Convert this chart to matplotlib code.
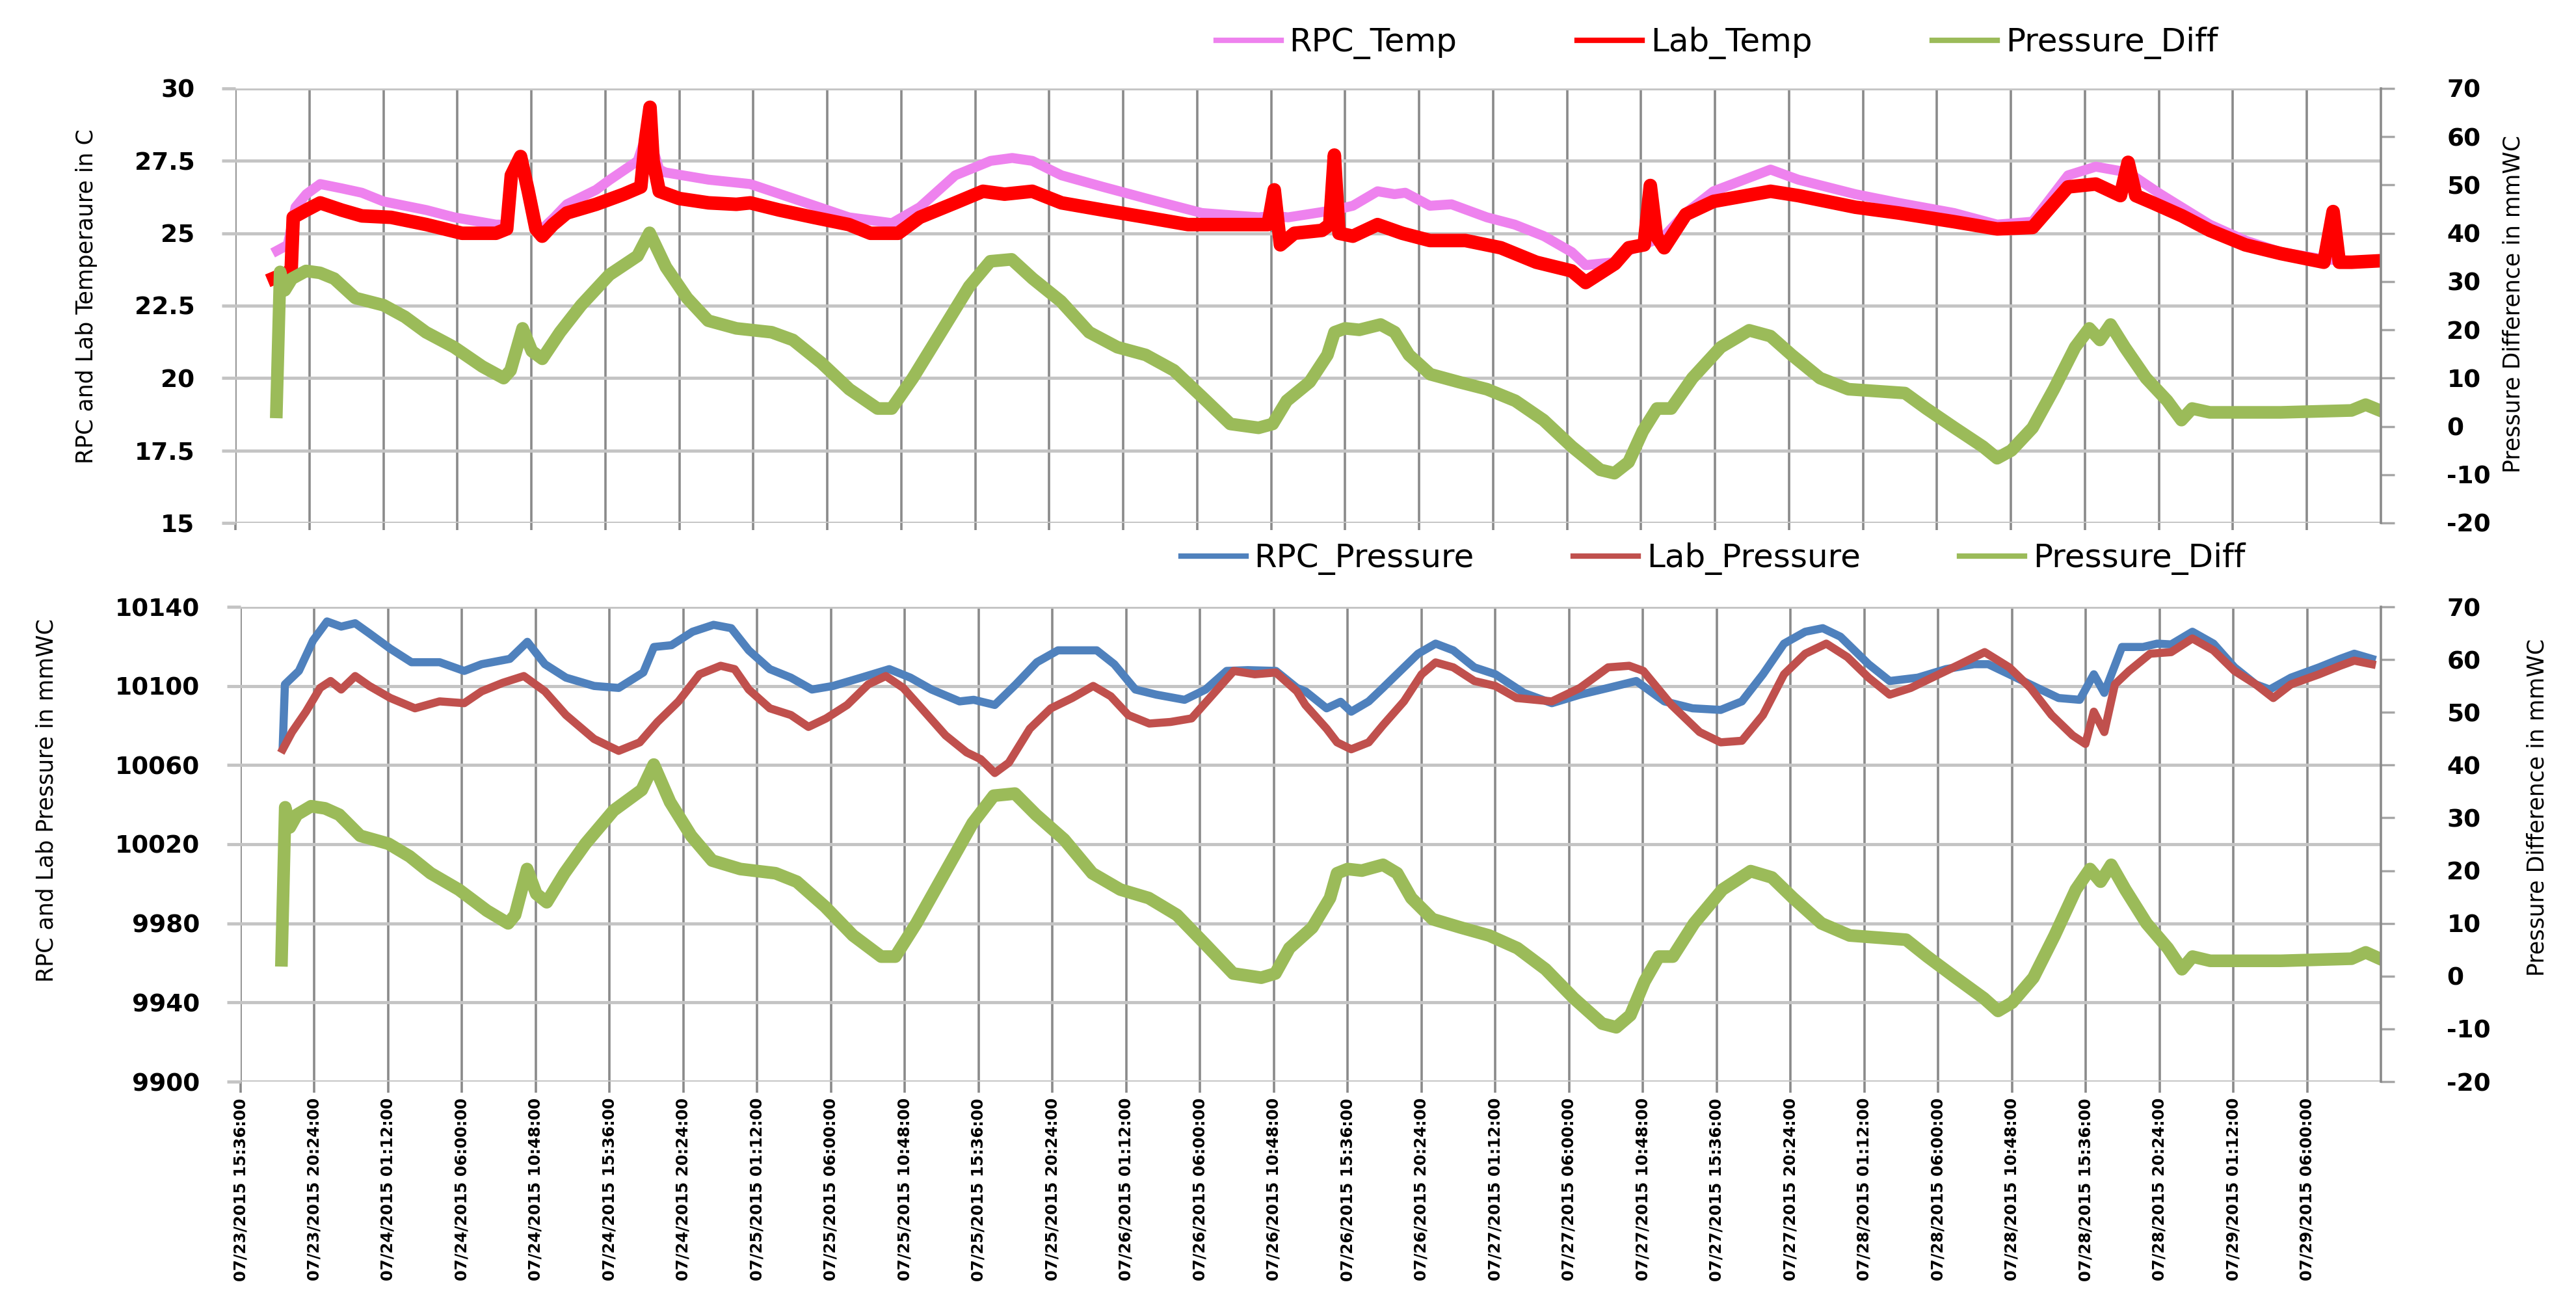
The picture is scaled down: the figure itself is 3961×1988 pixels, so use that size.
import numpy as np
import matplotlib
matplotlib.use("Agg")
import matplotlib.pyplot as plt

plt.rcParams['axes.unicode_minus'] = False

# hours after 07/23/2015 15:36:00 (one tick every 4.8 h)
rpc_temp_h = [2.7, 3.4, 3.9, 4.6, 5.5, 6.9, 8.2, 9.6, 12.4, 14.2, 16.9, 17.6, 17.9, 18.5, 19.0,
              19.5, 19.9, 20.6, 21.5, 23.4, 24.3, 26.1, 26.6, 26.9, 27.1, 27.5, 27.9, 30.7, 33.4, 36.2,
              39.8, 42.6, 44.4, 46.7, 49.0, 50.4, 51.7, 53.6, 56.3, 59.1, 62.7, 66.4, 67.3, 68.3, 71.3,
              72.5, 74.1, 75.2, 75.9, 77.5, 78.9, 81.2, 83.0, 84.9, 86.7, 87.6, 89.5, 90.4, 92.7, 94.1,
              95.9, 99.6, 101.4, 105.1, 107.9, 111.5, 114.3, 116.6, 118.9, 120.7, 122.8, 124.9, 128.1,
              130.4, 132.7, 135.5, 137.3, 139.1]
rpc_temp = [24.4, 24.6, 25.9, 26.35, 26.7, 26.55, 26.4, 26.1, 25.8, 25.55, 25.3, 25.3, 26.9, 27.6, 26.2,
            25.3, 25.15, 25.5, 26.0, 26.5, 26.85, 27.5, 28.3, 29.3, 27.9, 27.2, 27.1, 26.85, 26.7, 26.2,
            25.55, 25.35, 25.9, 27.0, 27.5, 27.6, 27.5, 27.0, 26.6, 26.2, 25.7, 25.55, 25.6, 25.55, 25.8,
            25.95, 26.45, 26.35, 26.4, 25.95, 26.0, 25.55, 25.3, 24.9, 24.35, 23.9, 24.0, 24.4, 24.9, 25.7,
            26.45, 27.2, 26.85, 26.35, 26.05, 25.7, 25.3, 25.4, 27.0, 27.3, 27.1, 26.35, 25.3,
            24.75, 24.35, 24.1, 24.05, 24.05]

lab_temp_h = [2.5, 3.4, 3.6, 3.75, 4.6, 5.5, 6.9, 8.2, 10.1, 12.4, 14.7, 16.9, 17.6, 17.9, 18.5,
              19.0, 19.5, 19.9, 20.6, 21.5, 23.4, 25.2, 26.3, 26.6, 26.9, 27.1, 27.5, 28.8, 30.7, 32.5,
              33.4, 35.3, 37.5, 39.8, 41.2, 43.0, 44.4, 46.7, 48.5, 49.9, 51.7, 53.6, 56.3, 59.1, 61.8,
              64.6, 67.0, 67.4, 67.8, 68.7, 70.5, 71.0, 71.3, 71.6, 72.5, 74.1, 75.7, 77.5, 79.8, 82.1,
              84.4, 86.7, 87.6, 89.5, 90.4, 91.4, 91.8, 92.2, 92.7, 94.1, 95.9, 99.6, 101.4, 105.1, 107.9,
              111.5, 114.3, 116.6, 118.9, 120.7, 122.3, 122.8, 123.3, 124.4, 126.3, 128.1, 130.4, 132.7,
              135.5, 136.1, 136.5, 137.3, 139.1]
lab_temp = [23.45, 23.65, 23.5, 25.55, 25.8, 26.05, 25.8, 25.6, 25.55, 25.3, 25.0, 25.0, 25.15, 27.0, 27.65,
            26.45, 25.15, 24.9, 25.3, 25.7, 26.0, 26.35, 26.6, 28.2, 29.35, 27.5, 26.45, 26.2, 26.05, 26.0,
            26.05, 25.8, 25.55, 25.3, 25.0, 25.0, 25.55, 26.05, 26.45, 26.35, 26.45, 26.05, 25.8, 25.55, 25.3,
            25.3, 25.3, 26.5, 24.6, 25.0, 25.1, 25.3, 27.7, 25.0, 24.9, 25.3, 25.0, 24.75, 24.75, 24.5,
            24.0, 23.7, 23.3, 23.95, 24.5, 24.6, 26.65, 24.9, 24.5, 25.65, 26.1, 26.45, 26.3, 25.9, 25.7,
            25.4, 25.15, 25.2, 26.6, 26.7, 26.3, 27.45, 26.3, 26.05, 25.6, 25.1, 24.6, 24.3,
            24.0, 25.75, 24.0, 24.0, 24.05]

pdiff_h = [2.66, 2.9, 3.2, 3.66, 4.58, 5.49, 6.41, 7.78, 9.61, 10.99,
           12.36, 14.19, 16.02, 17.4, 17.85, 18.63, 19.23, 19.91, 21.06, 22.43,
           24.26, 26.09, 26.87, 27.93, 29.3, 30.67, 32.5, 34.79, 36.17, 38.0,
           39.83, 41.66, 42.58, 43.95, 45.78, 47.61, 48.98, 50.36, 51.73, 53.56,
           55.39, 57.22, 59.06, 60.89, 62.72, 64.55, 66.38, 67.3, 68.21, 69.7,
           70.85, 71.31, 72.0, 72.92, 74.3, 75.22, 76.14, 77.52, 79.36, 81.2,
           83.04, 84.87, 86.71, 88.55, 89.47, 90.39, 91.31, 92.23, 93.15, 94.53,
           96.37, 98.21, 99.59, 100.97, 102.81, 104.65, 106.49, 108.32, 109.7, 111.54,
           113.38, 114.3, 115.22, 116.6, 117.98, 119.36, 120.28, 120.97, 121.66, 122.58,
           123.96, 125.34, 126.26, 126.95, 128.1, 132.69, 137.29, 138.21, 139.13]
pdiff = [3.0, 32.0, 28.2, 30.6, 32.2, 31.8, 30.6, 26.6, 25.1, 22.7,
         19.5, 16.4, 12.4, 10.0, 11.6, 20.3, 15.6, 14.0, 19.5, 25.1,
         31.4, 35.3, 40.1, 33.0, 26.6, 21.9, 20.3, 19.5, 17.9, 13.2,
         7.7, 3.7, 3.7, 10.0, 19.5, 29.0, 34.2, 34.6, 30.6, 25.9,
         19.5, 16.4, 14.8, 11.6, 6.1, 0.5, -0.3, 0.5, 5.3, 9.2,
         14.8, 19.5, 20.3, 20.0, 21.1, 19.5, 14.8, 10.8, 9.2, 7.7,
         5.3, 1.3, -4.2, -9.0, -9.7, -7.4, -1.0, 3.7, 3.7, 10.0,
         16.4, 19.9, 18.7, 14.8, 10.0, 7.7, 7.3, 6.9, 3.7, -0.3,
         -4.2, -6.6, -5.0, -0.3, 7.7, 16.4, 20.3, 17.9, 21.1, 16.4,
         10.0, 5.3, 1.3, 3.7, 2.9, 2.9, 3.3, 4.5, 3.3]

rpc_p_h = [2.74, 2.88, 3.79, 4.71, 5.62, 6.54, 7.45, 8.37, 9.74, 11.11,
           12.94, 14.54, 15.68, 17.51, 18.65, 19.79, 21.16, 22.99, 24.59, 26.19,
           26.88, 28.02, 29.39, 30.76, 31.91, 33.05, 34.42, 35.79, 37.16, 38.53,
           40.36, 42.19, 43.56, 44.93, 46.76, 47.68, 49.05, 50.42, 51.79, 53.16,
           54.53, 55.68, 56.82, 58.19, 59.56, 61.39, 62.76, 64.13, 65.5, 67.33, 68.7,
           69.25, 70.63, 71.54, 72.23, 73.37, 74.29, 75.2, 76.58, 77.72, 78.87,
           80.24, 81.61, 83.45, 85.28, 87.11, 88.94, 90.77, 92.6, 94.43, 96.26,
           97.64, 99.01, 100.38, 101.76, 102.9, 104.05, 105.88, 107.25, 109.08, 110.91,
           112.74, 113.66, 115.03, 116.86, 118.24, 119.61, 120.53, 121.21, 122.36, 123.73,
           124.65, 125.56, 126.94, 128.31, 129.68, 131.06, 131.97, 133.35, 135.18, 136.55,
           137.47, 138.61]
rpc_p = [10069.8, 10100.8, 10107.6, 10123, 10132.6, 10130, 10131.7, 10126.6, 10118.8, 10112,
         10112, 10107.6, 10111, 10113.7, 10122.3, 10111, 10104.2, 10100, 10099, 10106.8,
         10119.7, 10120.6, 10127.4, 10130.9, 10129.2, 10118, 10108.5, 10104.2, 10098.2, 10100,
         10104.2, 10108.5, 10104.2, 10098.2, 10092.2, 10093, 10090.4, 10100.8, 10112, 10118,
         10118, 10118, 10111, 10098.2, 10095.6, 10093, 10098.2, 10107.6, 10108, 10107.6, 10099,
         10097.3, 10088.7, 10092, 10087, 10092.2, 10099, 10105.9, 10116.3, 10121.4, 10118,
         10109.4, 10105.9, 10096.5, 10091.3, 10095.6, 10099, 10102.5, 10092.2, 10088.7, 10087.9,
         10092.2, 10105.9, 10121.4, 10127.4, 10129.2, 10124.9, 10111, 10102.5, 10104.2, 10108.5,
         10111, 10111, 10105.9, 10099, 10093.9, 10093, 10105.9, 10096.5, 10119.7, 10119.7,
         10121.4, 10121, 10127.4, 10121.4, 10109.4, 10100.8, 10098.2, 10104.2, 10109.4, 10113.7,
         10116.3, 10113.7]

lab_p_h = [2.74, 3.34, 4.25, 5.17, 5.85, 6.54, 7.45, 8.37, 9.74, 11.34,
           12.94, 14.54, 15.68, 17.05, 18.42, 19.79, 21.16, 22.99, 24.59, 25.96,
           27.11, 28.48, 29.85, 31.22, 32.13, 33.05, 34.42, 35.79, 36.93, 38.08,
           39.45, 40.82, 41.96, 43.1, 44.48, 45.85, 47.22, 48.13, 49.05, 49.96,
           51.33, 52.7, 54.08, 55.45, 56.59, 57.73, 59.1, 60.48, 61.85, 63.22,
           64.59, 65.96, 67.33, 68.7,
           69.25, 70.63, 71.31, 72.23, 73.37, 74.29, 75.66, 76.81, 77.72, 78.87,
           80.24, 81.61, 82.99, 85.28, 87.11, 88.94, 90.31, 91.23, 93.06, 94.89,
           96.26, 97.64, 99.01, 100.38, 101.76, 103.13, 104.5, 105.88, 107.25, 108.62,
           110.46, 111.83, 113.43, 115.03, 116.41, 117.78, 119.15, 119.98, 120.53, 121.21,
           121.9, 122.82, 124.19, 125.56, 126.94, 128.31, 129.68, 131.06, 132.2, 133.35,
           135.18, 136.55, 137.47, 138.61]
lab_p = [10068, 10076.7, 10087, 10099, 10102.5, 10098.2, 10105, 10100, 10093.9, 10088.7,
         10092.2, 10091.3, 10097.3, 10101.6, 10105, 10097.3, 10085.3, 10073.2, 10067.2, 10071.5,
         10081.8, 10092.2, 10105.9, 10110.2, 10108.5, 10098.2, 10088.7, 10085.3, 10079.3, 10083.6,
         10090.4, 10100.8, 10105, 10099, 10087, 10075, 10066.4, 10063, 10056, 10061.2,
         10078.4, 10088.7, 10093.9, 10100, 10094.8, 10085.3, 10081, 10081.8, 10083.6, 10095.6,
         10107.6, 10105.9, 10106.8, 10097.3,
         10090.4, 10078.4, 10071.5, 10068, 10071.5, 10080.1, 10092.2, 10105.9, 10111.9, 10109.4,
         10102.5, 10100, 10093.9, 10092.2, 10099, 10109.4, 10110.2, 10107.6, 10090.4, 10076.7,
         10071.5, 10072.3, 10085.3, 10105.9, 10116.3, 10121.4, 10114.6, 10104.2, 10095.6, 10099,
         10105.9, 10111, 10117.1, 10109.4, 10099, 10085.3, 10075, 10070.7, 10087, 10076.7,
         10100.8, 10107.6, 10116.3, 10117.1, 10124, 10118, 10107.6, 10100.8, 10093.9, 10100.8,
         10105.9, 10110.2, 10112.8, 10111]

xtick_labels = ["07/23/2015 15:36:00", "07/23/2015 20:24:00", "07/24/2015 01:12:00",
                "07/24/2015 06:00:00", "07/24/2015 10:48:00", "07/24/2015 15:36:00",
                "07/24/2015 20:24:00", "07/25/2015 01:12:00", "07/25/2015 06:00:00",
                "07/25/2015 10:48:00", "07/25/2015 15:36:00", "07/25/2015 20:24:00",
                "07/26/2015 01:12:00", "07/26/2015 06:00:00", "07/26/2015 10:48:00",
                "07/26/2015 15:36:00", "07/26/2015 20:24:00", "07/27/2015 01:12:00",
                "07/27/2015 06:00:00", "07/27/2015 10:48:00", "07/27/2015 15:36:00",
                "07/27/2015 20:24:00", "07/28/2015 01:12:00", "07/28/2015 06:00:00",
                "07/28/2015 10:48:00", "07/28/2015 15:36:00", "07/28/2015 20:24:00",
                "07/29/2015 01:12:00", "07/29/2015 06:00:00"]
tick_hours = np.arange(len(xtick_labels)) * 4.8

temp_ticks = [15, 17.5, 20, 22.5, 25, 27.5, 30]
temp_labels = ["15", "17.5", "20", "22.5", "25", "27.5", "30"]
press_ticks = [9900, 9940, 9980, 10020, 10060, 10100, 10140]
diff_ticks = list(range(-20, 80, 10))

HGRID = '#c4c4c4'
VGRID = '#8a8a8a'
W, H = 3961.0, 1988.0


def style(ax, axr, yticks, ylabels, ylim, rylim):
    ax.set_xlim(0, 29 * 4.8)
    ax.set_ylim(*ylim)
    axr.set_ylim(*rylim)
    ax.set_xticks(tick_hours)
    ax.set_yticks(yticks, labels=ylabels, fontsize=27, fontweight='bold')
    axr.set_yticks(diff_ticks, labels=[str(v) for v in diff_ticks],
                   fontsize=27, fontweight='bold')
    ax.grid(axis='x', color=VGRID, lw=2.6)
    ax.grid(axis='y', color=HGRID, lw=3.5)
    ax.set_axisbelow(True)
    for s in ax.spines.values():
        s.set_visible(False)
    for k, s in axr.spines.items():
        s.set_visible(k == 'right')
    axr.spines['right'].set_color(VGRID)
    axr.spines['right'].set_linewidth(2.6)
    ax.tick_params(axis='y', length=15, width=3.5, color=HGRID, pad=30)
    axr.tick_params(axis='y', length=15, width=2.5, color='#a6a6a6', pad=58)


fig = plt.figure(figsize=(W / 100, H / 100), dpi=100)

# top chart: temperatures
ax1 = fig.add_axes([362 / W, 1 - 804 / H, (3661 - 362) / W, (804 - 136) / H])
ax1r = ax1.twinx()
style(ax1, ax1r, temp_ticks, temp_labels, (15, 30), (-20, 70))
ax1.tick_params(axis='x', length=8, width=2.6, color=VGRID, labelbottom=False)

l1, = ax1.plot(rpc_temp_h, rpc_temp, color='#EE82EE', lw=11, solid_joinstyle='round')
l2, = ax1.plot(lab_temp_h, lab_temp, color='#FF0000', lw=15, solid_joinstyle='round')
l3, = ax1r.plot(pdiff_h, pdiff, color='#9BBB59', lw=14, solid_joinstyle='round')

ax1.set_ylabel('RPC and Lab Temperaure in C', fontsize=25)
ax1.yaxis.set_label_coords(-0.0643, 0.522)
ax1r.set_ylabel('Pressure Difference in mmWC', fontsize=25)
ax1r.yaxis.set_label_coords(1.0564, 0.504)

leg1 = fig.legend([l1, l2, l3], ['RPC_Temp', 'Lab_Temp', 'Pressure_Diff'], loc='center',
                  bbox_to_anchor=(0.6665, 1 - 66 / H), ncol=3, frameon=False, fontsize=36,
                  handlelength=2.0, handletextpad=0.25, columnspacing=3.7)

# bottom chart: pressures
ax2 = fig.add_axes([370 / W, 1 - 1663 / H, (3661 - 370) / W, (1663 - 933) / H])
ax2r = ax2.twinx()
style(ax2, ax2r, press_ticks, [str(v) for v in press_ticks], (9900, 10140), (-20, 70))
ax2.set_xticklabels(xtick_labels, rotation=90, fontsize=17.5, fontweight='bold')
ax2.tick_params(axis='x', length=12, width=2.6, color=VGRID, pad=6)

m1, = ax2.plot(rpc_p_h, rpc_p, color='#4F81BD', lw=9, solid_joinstyle='round')
m2, = ax2.plot(lab_p_h, lab_p, color='#C0504D', lw=9, solid_joinstyle='round')
m3, = ax2r.plot(pdiff_h, pdiff, color='#9BBB59', lw=14, solid_joinstyle='round')

ax2.set_ylabel('RPC and Lab Pressure in mmWC', fontsize=25)
ax2.yaxis.set_label_coords(-0.0854, 0.593)
ax2r.set_ylabel('Pressure Difference in mmWC', fontsize=25)
ax2r.yaxis.set_label_coords(1.068, 0.578)

leg2 = fig.legend([m1, m2, m3], ['RPC_Pressure', 'Lab_Pressure', 'Pressure_Diff'], loc='center',
                  bbox_to_anchor=(0.665, 1 - 859 / H), ncol=3, frameon=False, fontsize=36,
                  handlelength=2.0, handletextpad=0.25, columnspacing=3.05)

for leg in (leg1, leg2):
    for ln in leg.get_lines():
        ln.set_linewidth(6)

fig.savefig('out.png', dpi=100)
